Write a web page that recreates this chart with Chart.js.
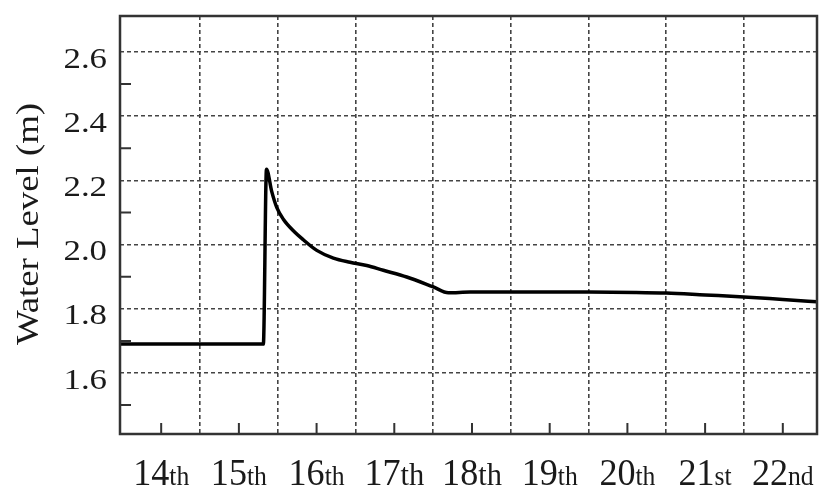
<!DOCTYPE html>
<html>
<head>
<meta charset="utf-8">
<script src="https://cdn.jsdelivr.net/npm/chart.js@4"></script>
<style>
  html, body { margin: 0; padding: 0; background: #fff; }
  #wrap { width: 826px; height: 489px; }
</style>
</head>
<body>
<div id="wrap"><canvas id="chart"></canvas></div>
<script>
// days counted from the start of the 14th
const dayPos = [-0.03, 1.815, 1.855, 1.923, 1.987, 2.072, 2.201, 2.329, 2.502, 2.716, 2.931, 3.145,
  3.359, 3.660, 4.003, 4.196, 4.475, 5.0, 6.0, 6.6, 7.0, 7.5, 8.0, 8.5, 8.94];
const waterLevel = [1.69, 1.69, 2.235, 2.165, 2.116, 2.079, 2.043, 2.015, 1.982, 1.958, 1.945, 1.935,
  1.920, 1.899, 1.868, 1.850, 1.852, 1.852, 1.852, 1.851, 1.849, 1.843, 1.837, 1.829, 1.822];
const dayLabels = ['14th', '15th', '16th', '17th', '18th', '19th', '20th', '21st', '22nd'];
const yTicks = [1.6, 1.8, 2.0, 2.2, 2.4, 2.6];
const yMinorTicks = [1.5, 1.7, 1.9, 2.1, 2.3, 2.5];
const dayBounds = [1, 2, 3, 4, 5, 6, 7, 8];

const serif = '"Liberation Serif", serif';

// frame, inner ticks and the labels (mixed size suffixes)
const decor = {
  id: 'decor',
  afterDatasetsDraw(chart) {
    const ctx = chart.ctx;
    const a = chart.chartArea;
    const xs = chart.scales.x, ys = chart.scales.y;
    ctx.save();
    ctx.strokeStyle = '#333';
    ctx.lineWidth = 2.5;
    ctx.strokeRect(a.left, a.top, a.right - a.left, a.bottom - a.top);

    ctx.lineWidth = 2;
    ctx.beginPath();
    yMinorTicks.forEach(v => {
      const y = ys.getPixelForValue(v);
      ctx.moveTo(a.left, y); ctx.lineTo(a.left + 11, y);
    });
    dayLabels.forEach((l, i) => {
      const x = xs.getPixelForValue(i + 0.5);
      ctx.moveTo(x, a.bottom); ctx.lineTo(x, a.bottom - 11);
    });
    ctx.stroke();

    ctx.fillStyle = '#1a1a1a';
    // y tick labels, wide face
    ctx.textBaseline = 'middle';
    ctx.textAlign = 'right';
    ctx.font = '29px ' + serif;
    yTicks.forEach(v => {
      const y = ys.getPixelForValue(v) + 8;
      ctx.save();
      ctx.translate(107, y);
      ctx.scale(1.2, 1);
      ctx.fillText(v.toFixed(1), 0, 0);
      ctx.restore();
    });

    // x labels: big number, small suffix
    ctx.textBaseline = 'alphabetic';
    ctx.textAlign = 'left';
    dayLabels.forEach((l, i) => {
      const num = l.slice(0, 2), suf = l.slice(2);
      const big = '38px ' + serif, small = (l === '17th' || l === '18th' ? '32px ' : '27px ') + serif;
      ctx.font = big; const w1 = ctx.measureText(num).width;
      ctx.font = small; const w2 = ctx.measureText(suf).width;
      const sx = 0.95;
      ctx.save();
      ctx.translate(xs.getPixelForValue(i + 0.5) - sx * (w1 + w2) / 2, 485);
      ctx.scale(sx, 1);
      ctx.font = big; ctx.fillText(num, 0, 0);
      ctx.font = small; ctx.fillText(suf, w1, 0);
      ctx.restore();
    });

    // axis title
    ctx.save();
    ctx.translate(30, 224);
    ctx.rotate(-Math.PI / 2);
    ctx.scale(1.15, 1);
    ctx.textAlign = 'center';
    ctx.textBaseline = 'middle';
    ctx.font = '32px ' + serif;
    ctx.fillText('Water Level (m)', 0, 0);
    ctx.restore();
    ctx.restore();
  }
};

function draw() {
  new Chart(document.getElementById('chart'), {
    type: 'line',
    data: {
      datasets: [{
        data: dayPos.map((d, i) => ({ x: d, y: waterLevel[i] })),
        borderColor: '#000',
        borderWidth: 3.5,
        pointRadius: 0,
        cubicInterpolationMode: 'monotone',
        fill: false
      }]
    },
    options: {
      responsive: true,
      maintainAspectRatio: false,
      animation: false,
      layout: { padding: { left: 120, top: 16, right: 9, bottom: 55 } },
      plugins: { legend: { display: false }, tooltip: { enabled: false } },
      scales: {
        x: {
          type: 'linear',
          min: -0.03,
          max: 8.94,
          afterBuildTicks: s => { s.ticks = dayBounds.map(v => ({ value: v })); },
          ticks: { display: false },
          grid: { color: '#444', lineWidth: 1.6, drawTicks: false },
          border: { display: false, dash: [4, 3] }
        },
        y: {
          min: 1.41,
          max: 2.712,
          afterBuildTicks: s => { s.ticks = yTicks.map(v => ({ value: v })); },
          ticks: { display: false },
          grid: { color: '#444', lineWidth: 1.6, drawTicks: false },
          border: { display: false, dash: [4, 3] }
        }
      }
    },
    plugins: [decor]
  });
}

if (document.fonts && document.fonts.load) {
  document.fonts.load('30px "Liberation Serif"').then(draw, draw);
} else {
  draw();
}
</script>
</body>
</html>
